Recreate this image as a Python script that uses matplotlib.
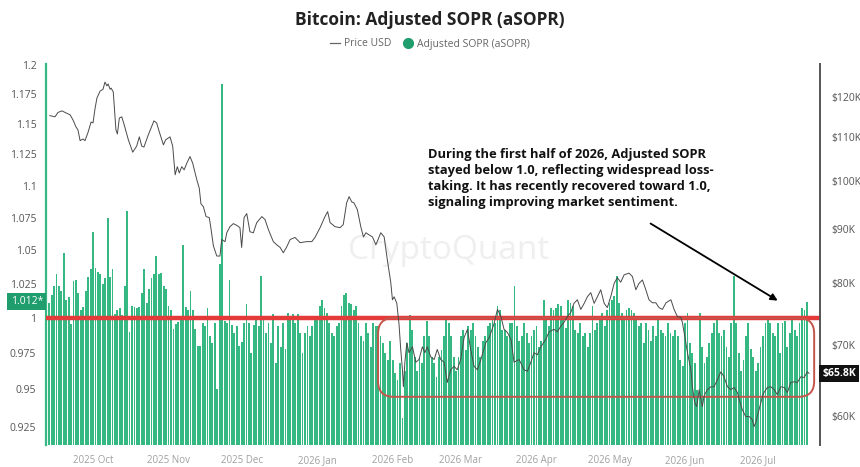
import numpy as np
import pandas as pd
import matplotlib
matplotlib.use('Agg')
import matplotlib.pyplot as plt
import matplotlib.dates as mdates
import matplotlib.transforms as mtransforms
from matplotlib.patches import FancyBboxPatch
from matplotlib.lines import Line2D
from matplotlib.ticker import FixedLocator, NullLocator

plt.rcParams['font.family'] = ['Open Sans', 'DejaVu Sans']

# daily adjusted SOPR, first bar on 2025-09-13
sopr_start = '2025-09-13'
sopr = [
    # mid Sep - mid Nov 2025
    1.011, 1.017, 1.023, 1.032, 1.023, 1.020, 1.048, 1.013, 1.015, 0.996,
    1.027, 1.028, 1.018, 1.006, 1.008, 1.020, 1.030, 1.036, 1.064, 1.037,
    1.034, 1.032, 1.025, 1.029, 1.075, 1.030, 1.036, 1.003, 1.006, 1.007,
    1.002, 1.023, 1.080, 0.990, 1.009, 1.008, 1.007, 1.008, 1.018, 1.036,
    1.011, 1.021, 1.029, 1.032, 1.046, 1.032, 1.033, 1.023, 1.021, 1.009,
    1.006, 0.992, 0.996, 0.997, 1.001, 1.054, 1.008, 1.006, 1.020, 1.006,
    0.992, 0.980,
    # mid Nov 2025 - mid Jan 2026
    0.980, 0.9965, 0.994, 1.007, 0.987, 0.982, 0.9965, 0.950, 1.040, 1.183,
    0.998, 0.9965, 1.028, 0.995, 0.989, 0.994, 0.980, 0.983, 0.9965, 1.010,
    0.9965, 0.975, 0.995, 1.001, 0.994, 1.031, 1.001, 0.989, 0.9965, 0.982,
    1.003, 0.968, 0.994, 0.9795, 0.9965, 0.978, 1.004, 0.999, 1.003, 0.9965,
    1.003, 0.989, 0.975, 0.989, 0.994, 0.987, 0.994, 1.000, 1.001, 1.009,
    1.013, 1.007, 1.004, 0.9965, 0.989, 0.987, 0.994, 0.9965, 1.009, 1.017,
    1.018, 1.011, 1.010, 1.006,
    # mid Jan - mid Mar 2026
    1.009, 0.9965, 0.987, 0.984, 0.9965, 0.989, 0.9795, 0.9965, 0.994, 0.994,
    0.987, 0.982, 0.975, 0.970, 0.984, 0.970, 0.961, 0.9565, 0.968, 0.931,
    0.963, 0.982, 1.002, 0.9915, 0.9727, 0.963, 0.9727, 0.968, 0.987, 0.998,
    0.987, 0.9727, 0.968, 0.9586, 0.9727, 0.977, 0.987, 1.001, 0.9965, 0.987,
    0.9727, 0.963, 0.9727, 0.987, 0.9915, 0.977, 0.994, 0.9915, 0.9965, 0.987,
    0.9795, 0.9727, 0.984, 0.987, 0.994, 0.9965, 1.001, 0.9965, 1.009, 1.006,
    0.9915, 0.9915, 0.987, 0.9965,
    # mid Mar - mid May 2026
    0.9965, 1.023, 0.994, 0.984, 0.987, 0.9965, 0.989, 0.982, 0.987, 0.9915,
    0.994, 0.9795, 0.984, 1.013, 1.001, 0.994, 1.007, 1.006, 1.007, 1.010,
    1.009, 1.001, 0.993, 1.013, 1.011, 1.009, 0.9915, 0.989, 0.9965, 0.987,
    0.989, 0.9795, 0.989, 1.009, 0.9915, 0.9965, 1.001, 1.004, 0.994, 1.006,
    1.011, 1.013, 1.016, 1.031, 1.011, 1.004, 1.001, 1.006, 1.007, 1.006,
    1.004, 0.999, 0.994, 0.9965, 0.982, 0.9965, 0.9915, 0.984, 0.994, 0.987,
    0.999, 0.9915, 0.989, 0.987,
    # mid May - Jul 2026
    0.9965, 0.989, 0.987, 0.9915, 0.987, 0.970, 0.966, 0.9965, 1.004, 0.982,
    0.975, 0.968, 0.9496, 1.004, 0.9795, 0.968, 0.9727, 0.982, 0.989, 0.9965,
    0.999, 0.989, 0.987, 0.9915, 0.9795, 0.9727, 0.9965, 1.031, 0.9965, 0.975,
    0.963, 0.970, 0.987, 0.9965, 0.978, 0.9727, 0.963, 0.968, 0.9795, 0.987,
    0.9965, 0.999, 0.9965, 0.989, 0.987, 0.9965, 0.975, 0.9965, 0.998, 0.9795,
    0.989, 0.999, 0.9915, 0.987, 0.9965, 1.007, 1.006, 1.012,
]

# BTC price (thousand USD), sampled at days after 2025-10-01
price_base = '2025-10-01'
price_days = [
    -17.7, -15.6, -14.4, -12.7, -11.5, -9.4, -8.2, -7.0, -6.2, -5.3,
    -4.1, -3.3, -2.1, -0.8, 0.0, 0.8, 1.6, 2.9, 4.1, 4.9,
    5.7, 6.2, 7.0, 7.4, 8.3, 9.4, 10.0, 10.8, 11.8, 12.8,
    14.5, 16.3, 17.9, 19.0, 20.0, 20.9, 22.7, 24.1, 25.0, 26.1,
    27.2, 28.9, 29.8, 31.6, 32.7, 33.7, 34.6, 35.4, 36.4, 37.4,
    38.5, 39.8, 40.9, 42.6, 43.6, 44.3, 45.3, 46.4, 47.7, 48.3,
    49.4, 50.8, 52.1, 52.8, 54.2, 54.9, 56.2, 57.6, 59.2, 60.3,
    61.0, 62.0, 63.1, 64.4, 65.8, 67.2, 69.3, 70.6, 72.0, 74.0,
    75.4, 76.8, 78.1, 79.5, 80.9, 82.9, 85.0, 87.7, 89.8, 91.1,
    93.2, 95.2, 96.3, 97.3, 99.3, 101.4, 102.7, 104.1, 105.1, 106.2,
    107.1, 108.5, 109.9, 111.0, 112.0, 113.3, 114.7, 116.1, 117.0, 118.1,
    119.5, 120.8, 122.2, 122.9, 123.6, 124.7, 125.6, 126.3, 127.0, 127.4,
    128.0, 128.8, 129.7, 131.1, 132.5, 133.8, 135.2, 136.2, 137.2, 138.6,
    140.0, 141.3, 142.7, 144.1, 145.4, 146.8, 148.2, 149.5, 150.9, 152.3,
    153.7, 155.0, 156.4, 157.8, 159.2, 161.2, 162.6, 164.6, 166.0, 167.4,
    168.7, 170.1, 171.6, 172.8, 174.9, 176.9, 178.3, 179.7, 181.0, 182.4,
    183.8, 185.8, 187.2, 189.2, 190.6, 192.0, 193.3, 194.7, 196.1, 197.4,
    198.8, 200.2, 201.6, 202.9, 204.3, 205.7, 207.0, 208.4, 209.8, 211.1,
    212.5, 213.9, 215.2, 216.6, 218.0, 220.0, 221.4, 222.8, 224.1, 225.5,
    226.9, 228.2, 229.6, 231.0, 232.3, 233.7, 235.2, 237.2, 238.5, 239.9,
    241.3, 241.9, 242.9, 244.0, 245.4, 246.0, 247.0, 247.8, 248.8, 249.5,
    250.1, 250.8, 251.5, 252.2, 253.6, 254.9, 256.3, 257.7, 259.0, 260.4,
    261.8, 263.1, 264.5, 265.2, 266.5, 267.9, 269.3, 270.6, 271.3, 272.0,
    273.4, 274.8, 275.4, 276.8, 278.2, 279.6, 280.9, 282.3, 283.7, 285.0,
    286.4, 287.8, 289.1, 290.5, 291.9, 293.2, 293.9,
]
price_k = [
    115.2, 114.9, 116.0, 116.4, 116.0, 115.4, 114.1, 112.4, 111.7, 109.1,
    109.5, 109.1, 111.0, 113.6, 113.4, 116.9, 119.7, 121.5, 122.0, 123.9,
    122.9, 123.4, 122.0, 122.3, 121.3, 111.7, 110.7, 114.6, 114.9, 112.9,
    109.3, 106.4, 107.8, 110.0, 107.8, 107.6, 110.5, 112.6, 113.9, 113.4,
    111.2, 108.1, 109.3, 110.0, 107.8, 101.3, 103.1, 101.7, 103.1, 102.4,
    103.9, 105.4, 103.9, 100.2, 98.4, 95.1, 94.5, 92.5, 92.3, 90.5,
    86.8, 84.9, 84.9, 88.0, 87.6, 89.3, 90.5, 91.1, 90.7, 90.3,
    86.5, 92.3, 93.1, 89.5, 89.3, 91.3, 92.5, 91.9, 89.9, 87.6,
    87.0, 86.5, 85.5, 86.6, 88.0, 88.4, 87.4, 87.6, 87.6, 88.4,
    90.3, 92.5, 93.5, 91.3, 90.5, 90.3, 90.9, 95.3, 96.6, 95.5,
    95.3, 93.9, 90.5, 88.5, 89.3, 88.9, 88.5, 87.0, 88.0, 89.3,
    88.5, 84.2, 80.2, 77.2, 77.7, 76.6, 73.2, 69.3, 66.3, 63.9,
    67.4, 70.3, 68.8, 69.7, 67.4, 67.8, 69.7, 68.8, 69.7, 68.2,
    67.8, 69.3, 67.8, 67.4, 64.5, 66.3, 66.8, 66.3, 67.8, 71.1,
    72.4, 69.3, 66.8, 66.3, 67.8, 70.3, 71.1, 73.3, 75.6, 74.5,
    72.4, 71.9, 70.8, 67.4, 67.8, 66.3, 66.1, 67.4, 68.8, 68.5,
    69.7, 70.8, 72.0, 72.4, 72.0, 72.9, 73.5, 74.4, 75.1, 76.6,
    77.2, 75.6, 76.6, 77.7, 78.4, 76.6, 77.7, 78.9, 76.6, 75.9,
    77.7, 80.0, 81.0, 80.2, 81.5, 81.8, 81.2, 78.9, 80.0, 80.6,
    78.9, 77.2, 76.7, 76.7, 75.9, 75.6, 76.7, 77.2, 75.6, 74.4,
    74.3, 73.5, 71.3, 68.8, 66.3, 63.9, 61.7, 61.2, 63.5, 62.2,
    61.2, 62.6, 63.1, 63.5, 63.9, 63.9, 64.9, 66.0, 65.3, 63.9,
    63.5, 63.8, 63.1, 62.2, 60.8, 59.9, 59.9, 59.5, 58.6, 59.1,
    60.8, 62.6, 63.1, 63.8, 63.9, 63.5, 62.8, 63.9, 63.8, 63.1,
    64.5, 64.6, 64.5, 65.3, 65.2, 66.0, 65.8,
]

left_ticks = [0.925, 0.95, 0.975, 1.0, 1.025, 1.05, 1.075, 1.1, 1.125, 1.15, 1.175, 1.2]
right_ticks = [60, 70, 80, 90, 100, 110, 120]
month_ticks = ['2025-10-01', '2025-11-01', '2025-12-01', '2026-01-01', '2026-02-01',
               '2026-03-01', '2026-04-01', '2026-05-01', '2026-06-01', '2026-07-01']
month_labels = ['2025 Oct', '2025 Nov', '2025 Dec', '2026 Jan', '2026 Feb',
                '2026 Mar', '2026 Apr', '2026 May', '2026 Jun', '2026 Jul']

note = ("During the first half of 2026, Adjusted SOPR\n"
        "stayed below 1.0, reflecting widespread loss-\n"
        "taking. It has recently recovered toward 1.0,\n"
        "signaling improving market sentiment.")

green = '#36b883'
dark_green = '#1f9d6c'

dates = pd.date_range(sopr_start, periods=len(sopr), freq='D')
pdates = pd.Timestamp(price_base) + pd.to_timedelta(price_days, unit='D')
sopr = np.array(sopr)

fig = plt.figure(figsize=(8.6, 4.67), dpi=100)
ax = fig.add_axes([0.0535, 0.0471, 0.9, 0.816])
ax2 = ax.twinx()

# sopr bars
ax.set_yscale('log')
ax.bar(dates, sopr - 0.9, bottom=0.9, width=0.75, color=green, zorder=2)
ax.set_ylim(0.9128, 1.2005)
ax.set_xlim(pd.Timestamp(price_base) - pd.Timedelta(days=19.3),
            pd.Timestamp(price_base) + pd.Timedelta(days=298.4))
ax.yaxis.set_major_locator(FixedLocator(left_ticks))
ax.yaxis.set_minor_locator(NullLocator())
ax.set_yticklabels([f'{v:g}' for v in left_ticks])
ax.set_xticks(pd.to_datetime(month_ticks))
ax.set_xticklabels(month_labels)
ax.tick_params(axis='x', length=0, pad=7, labelsize=7, labelcolor='#a0a0a0')
ax.tick_params(axis='y', length=0, pad=7, labelsize=7.5, labelcolor='#555555')
for s in ['top', 'right', 'bottom']:
    ax.spines[s].set_visible(False)
ax.spines['left'].set_color(green)
ax.spines['left'].set_linewidth(1.6)

# watermark
ax.text(0.52, 0.51, 'CryptoQuant', transform=ax.transAxes, ha='center', va='center',
        fontsize=24, color='#efefef', zorder=0)

# threshold line at 1.0
ax.axhline(1.0, color='#e53a3a', linewidth=3.2, zorder=4)

# rounded highlight box
x0 = mdates.date2num(pd.Timestamp('2026-01-26'))
x1 = mdates.date2num(pd.Timestamp('2026-07-24'))
(bx0, by0), (bx1, by1) = ax.transAxes.inverted().transform(
    ax.transData.transform([(x0, 0.945), (x1, 1.0)]))
bb = ax.get_window_extent()
box = FancyBboxPatch((bx0, by0), bx1 - bx0, by1 - by0,
                     boxstyle='round,pad=0,rounding_size=0.02',
                     mutation_aspect=bb.width / bb.height,
                     transform=ax.transAxes, fill=False,
                     edgecolor='#c4554b', linewidth=1.4, zorder=5)
ax.add_patch(box)

# last value tag on the left
ax.text(-0.004, sopr[-1], '1.012*', transform=mtransforms.blended_transform_factory(ax.transAxes, ax.transData),
        ha='right', va='center', fontsize=7.5, color='white',
        bbox=dict(boxstyle='square,pad=0.3', fc=dark_green, ec='none'), zorder=6, clip_on=False)

# price line
ax2.set_yscale('log')
ax2.plot(pdates, np.array(price_k) * 1000, color='#4a4a4a', linewidth=0.7)
ax2.set_ylim(56300, 128900)
ax2.yaxis.set_major_locator(FixedLocator([v * 1000 for v in right_ticks]))
ax2.yaxis.set_minor_locator(NullLocator())
ax2.set_yticklabels([f'${v}K' for v in right_ticks])
ax2.tick_params(axis='y', length=0, pad=8, labelsize=7.5, labelcolor='#555555')
for s in ['top', 'left', 'bottom']:
    ax2.spines[s].set_visible(False)
ax2.spines['right'].set_color('#555555')
ax2.spines['right'].set_linewidth(1.4)
ax2.text(1.003, price_k[-1] * 1000, '$65.8K',
         transform=mtransforms.blended_transform_factory(ax2.transAxes, ax2.transData),
         ha='left', va='center', fontsize=7.5, fontweight='bold', color='white',
         bbox=dict(boxstyle='square,pad=0.3', fc='#111111', ec='none'), clip_on=False)

# annotation
ax2.text(0.4935, 0.78, note, transform=ax2.transAxes, ha='left', va='top',
         fontsize=9.3, fontweight='bold', color='#111111', linespacing=1.3)
tip = (mdates.date2num(pd.Timestamp('2026-07-10')), 1.0116)
ax.annotate('', xy=tip, xycoords='data', xytext=(0.778, 0.585), textcoords='axes fraction',
            arrowprops=dict(arrowstyle='-|>', color='black', lw=1.3, mutation_scale=10),
            zorder=7)

# title and legend
fig.text(0.5, 1 - 20 / 467, 'Bitcoin: Adjusted SOPR (aSOPR)', ha='center', va='center',
         fontsize=12.5, fontweight='bold', color='#222222')
handles = [Line2D([], [], color='#666666', linewidth=0.9),
           Line2D([], [], color=dark_green, marker='o', linestyle='none', markersize=7)]
fig.legend(handles, ['Price USD', 'Adjusted SOPR (aSOPR)'], loc='center',
           bbox_to_anchor=(0.5, 1 - 44 / 467), ncol=2, frameon=False, fontsize=7.5,
           labelcolor='#666666', handlelength=0.9, handletextpad=0.4, columnspacing=1.2)

fig.savefig('out.png', dpi=100)
